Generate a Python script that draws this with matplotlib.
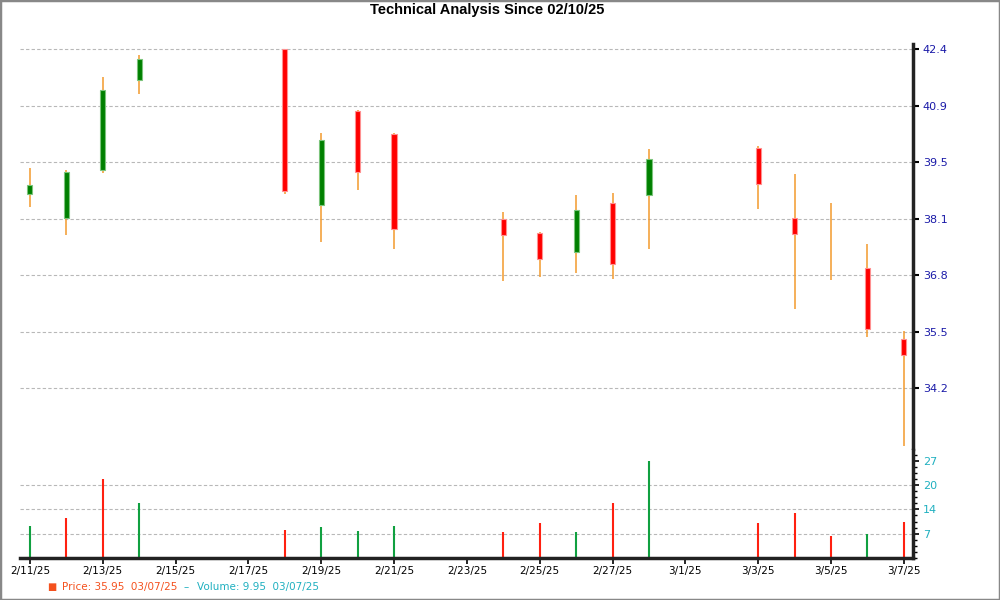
import matplotlib
matplotlib.use("Agg")
import matplotlib.pyplot as plt
import matplotlib.dates as mdates
import matplotlib.ticker as mticker
from matplotlib.patches import Rectangle
import numpy as np
import pandas as pd

# daily bars (trading days only)
dates  = ["2025-02-11", "2025-02-12", "2025-02-13", "2025-02-14", "2025-02-18",
          "2025-02-19", "2025-02-20", "2025-02-21", "2025-02-24", "2025-02-25",
          "2025-02-26", "2025-02-27", "2025-02-28", "2025-03-03", "2025-03-04",
          "2025-03-05", "2025-03-06", "2025-03-07"]
opens  = [38.68, 38.11, 39.28, 41.57, 42.40, 38.41, 40.77, 40.18, 38.08, 37.73,
          37.29, 38.47, 38.65, 39.82, 38.09, 37.45, 36.90, 35.29]
highs  = [39.32, 39.28, 41.66, 42.25, 42.40, 40.20, 40.80, 40.20, 38.24, 37.75,
          38.66, 38.70, 39.79, 39.88, 39.18, 38.46, 37.48, 35.46]
lows   = [38.37, 37.70, 39.21, 41.20, 38.69, 37.53, 38.79, 37.36, 36.61, 36.71,
          36.80, 36.66, 37.35, 38.32, 35.97, 36.64, 35.34, 32.98]
closes = [38.90, 39.22, 41.31, 42.13, 38.75, 40.02, 39.22, 37.83, 37.68, 37.11,
          38.30, 37.00, 39.55, 38.93, 37.71, 37.45, 35.52, 34.94]
volumes = [8.8, 11.0, 22.0, 15.4, 7.7, 8.5, 7.4, 8.8, 7.2, 9.6,
           7.2, 15.2, 27.0, 9.6, 12.4, 6.1, 6.6, 9.95]
vol_dir = ["up", "down", "down", "up", "down", "up", "up", "up", "down", "down",
           "up", "down", "up", "down", "down", "down", "up", "down"]

price_labels = ["34.2", "35.5", "36.8", "38.1", "39.5", "40.9", "42.4"]
volume_labels = ["7", "14", "20", "27"]
volume_max_tick = 27

UP_BODY, UP_EDGE = "#008000", "#7cc47c"
DN_BODY, DN_EDGE = "#ff0000", "#ff9090"
WICK = "#f39a2c"
VOL_UP, VOL_DN = "#10a040", "#ff2010"
PRICE_TXT = "#1a1aa8"
VOL_TXT = "#20b0c0"
GRID = "#b8b8b8"

x = mdates.date2num(pd.to_datetime(dates))
o, h, l, c = map(np.array, (opens, highs, lows, closes))

fig = plt.figure(figsize=(10, 6), dpi=100)
ax = fig.add_axes([0.02, 0.2517, 0.893, 0.675])
axv = fig.add_axes([0.02, 0.070, 0.893, 0.180], sharex=ax)

# --- price panel (log scale) ---
ax.set_yscale("log")
price_ticks = np.geomspace(float(price_labels[0]), float(price_labels[-1]), len(price_labels))
for t in price_ticks:
    ax.axhline(t, color=GRID, lw=0.8, ls=(0, (3, 2)), zorder=0)

ax.vlines(x, l, h, color=WICK, lw=1.1, zorder=2)
up = c > o
dn = c < o
body_w = 0.14
ax.bar(x[up], (c - o)[up], bottom=o[up], width=body_w,
       color=UP_BODY, edgecolor=UP_EDGE, linewidth=0.8, zorder=3)
ax.bar(x[dn], (o - c)[dn], bottom=c[dn], width=body_w,
       color=DN_BODY, edgecolor=DN_EDGE, linewidth=0.8, zorder=3)

ax.set_ylim(32.91, 42.54)
ax.yaxis.set_major_locator(mticker.FixedLocator(price_ticks))
ax.yaxis.set_major_formatter(mticker.FixedFormatter(price_labels))
ax.yaxis.set_minor_locator(mticker.NullLocator())
ax.yaxis.tick_right()
ax.tick_params(axis="y", direction="out", length=4, width=1.5, pad=3,
               labelsize=8, labelcolor=PRICE_TXT, color="black")
ax.tick_params(axis="x", bottom=False, labelbottom=False)
for s in ("left", "top", "bottom"):
    ax.spines[s].set_visible(False)
ax.spines["right"].set_linewidth(2.5)
ax.spines["right"].set_color("#222222")

# --- volume panel ---
vol_ticks = [volume_max_tick * (i + 1) / len(volume_labels) for i in range(len(volume_labels))]
for t in vol_ticks[:-1]:
    axv.axhline(t, color=GRID, lw=0.8, ls=(0, (3, 2)), zorder=0)
vcols = [VOL_UP if d == "up" else VOL_DN for d in vol_dir]
axv.vlines(x, 0, volumes, colors=vcols, lw=1.5, zorder=2)

axv.set_ylim(0, 30)
axv.yaxis.set_major_locator(mticker.FixedLocator(vol_ticks))
axv.yaxis.set_major_formatter(mticker.FixedFormatter(volume_labels))
axv.yaxis.set_minor_locator(mticker.MultipleLocator(vol_ticks[0] / 4))
axv.yaxis.tick_right()
axv.tick_params(axis="y", which="major", direction="out", length=4, width=1.2, pad=3,
                labelsize=8, labelcolor=VOL_TXT, color="black")
axv.tick_params(axis="y", which="minor", direction="out", length=3, width=1.0, color="black")
for s in ("left", "top"):
    axv.spines[s].set_visible(False)
for s in ("right", "bottom"):
    axv.spines[s].set_linewidth(2.5)
    axv.spines[s].set_color("#222222")

xt = pd.date_range(dates[0], dates[-1], freq="2D")
axv.xaxis.set_major_locator(mticker.FixedLocator(mdates.date2num(xt)))
axv.xaxis.set_major_formatter(mticker.FixedFormatter([f"{d.month}/{d.day}/{d:%y}" for d in xt]))
axv.tick_params(axis="x", direction="out", length=4, width=1.2, labelsize=7.5, pad=2)
axv.set_xlim(x[0] - 0.27, x[-1] + 0.25)

# --- title, legend, frame ---
fig.text(0.487, 0.983, "Technical Analysis Since 02/10/25", ha="center", va="center",
         fontsize=10.5, fontweight="bold", family=["Liberation Sans", "DejaVu Sans"])
fig.text(0.047, 0.022, "■", color="#f4511e", fontsize=7, va="center")
fig.text(0.062, 0.022, "Price: 35.95  03/07/25", color="#f4511e", fontsize=7.5, va="center")
fig.text(0.184, 0.022, "–", color=VOL_TXT, fontsize=7.5, va="center")
fig.text(0.197, 0.022, "Volume: 9.95  03/07/25", color=VOL_TXT, fontsize=7.5, va="center")
fig.patches.append(Rectangle((0, 0), 1, 1, transform=fig.transFigure, fill=False,
                             edgecolor="#888888", linewidth=2.5, clip_on=False))

fig.savefig("out.png", dpi=100)
